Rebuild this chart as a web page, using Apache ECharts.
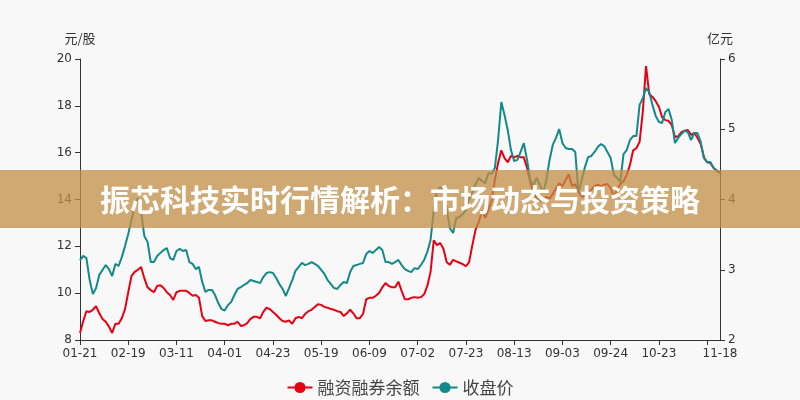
<!DOCTYPE html>
<html>
<head>
<meta charset="utf-8">
<script src="https://cdn.jsdelivr.net/npm/echarts@6/dist/echarts.min.js"></script>
<style>
html,body{margin:0;padding:0;background:#f8f8f8;}
#chart{width:800px;height:400px;}
</style>
</head>
<body>
<div id="chart"></div>
<script>
const dates = [
'01-21','01-22','01-23','01-24','01-27','02-05','02-06','02-07','02-10','02-11','02-12','02-13','02-14','02-17','02-18',
'02-19','02-20','02-21','02-24','02-25','02-26','02-27','02-28','03-03','03-04','03-05','03-06','03-07','03-08','03-10',
'03-11','03-12','03-13','03-14','03-17','03-18','03-19','03-20','03-21','03-24','03-25','03-26','03-27','03-28','03-31',
'04-01','04-02','04-03','04-07','04-08','04-09','04-10','04-11','04-14','04-15','04-16','04-17','04-18','04-21','04-22',
'04-23','04-24','04-25','04-28','04-29','04-30','05-06','05-07','05-08','05-09','05-12','05-13','05-14','05-15','05-16',
'05-19','05-20','05-21','05-22','05-23','05-26','05-27','05-28','05-29','05-30','06-02','06-03','06-04','06-05','06-06',
'06-09','06-10','06-11','06-12','06-13','06-16','06-17','06-18','06-19','06-20','06-23','06-25','06-27','06-30','07-01',
'07-02','07-03','07-04','07-07','07-08','07-09','07-10','07-11','07-14','07-15','07-16','07-17','07-18','07-21','07-22',
'07-23','07-24','07-25','07-28','07-29','07-30','07-31','08-01','08-04','08-05','08-06','08-07','08-08','08-11','08-12',
'08-13','08-14','08-15','08-18','08-19','08-20','08-21','08-22','08-25','08-26','08-27','08-28','08-29','09-01','09-02',
'09-03','09-04','09-05','09-08','09-09','09-10','09-11','09-12','09-15','09-16','09-17','09-18','09-19','09-22','09-23',
'09-24','09-25','09-26','09-29','09-30','10-09','10-10','10-13','10-14','10-15','10-16','10-17','10-20','10-21','10-22',
'10-23','10-24','10-27','10-28','10-29','10-30','10-31','11-01','11-03','11-04','11-05','11-06','11-07','11-10','11-11',
'11-12','11-13','11-14','11-17','11-18'
];

// 融资融券余额 (亿元, right axis)
const marginBalance = [
2.10,2.27,2.41,2.40,2.43,2.48,2.38,2.30,2.26,2.19,2.10,2.23,2.23,2.31,2.44,
2.68,2.91,2.97,3.00,3.04,2.88,2.75,2.71,2.68,2.77,2.78,2.74,2.68,2.64,2.57,
2.68,2.70,2.70,2.70,2.67,2.63,2.64,2.60,2.34,2.27,2.28,2.28,2.26,2.24,2.23,
2.23,2.21,2.23,2.23,2.26,2.20,2.21,2.24,2.30,2.33,2.33,2.31,2.40,2.46,2.44,
2.40,2.36,2.31,2.27,2.26,2.28,2.23,2.31,2.33,2.31,2.37,2.41,2.43,2.47,2.51,
2.50,2.47,2.46,2.44,2.43,2.41,2.40,2.34,2.38,2.43,2.38,2.31,2.31,2.37,2.58,
2.60,2.60,2.63,2.67,2.75,2.81,2.77,2.75,2.75,2.83,2.70,2.58,2.58,2.60,2.61,
2.60,2.61,2.65,2.77,2.97,3.42,3.35,3.38,3.30,3.11,3.07,3.14,3.12,3.10,3.08,
3.05,3.11,3.35,3.57,3.68,3.84,3.74,3.85,3.99,4.28,4.52,4.70,4.59,4.53,4.62,
4.60,4.62,4.60,4.60,4.45,4.25,4.09,4.02,3.99,3.98,4.04,4.01,4.08,4.16,4.23,
4.19,4.28,4.36,4.19,4.22,4.11,4.04,4.05,4.09,4.14,4.19,4.21,4.19,4.21,4.22,
4.16,4.04,4.14,4.22,4.26,4.35,4.49,4.70,4.73,4.82,5.25,5.90,5.50,5.46,5.40,
5.32,5.17,5.13,5.12,5.06,4.89,4.90,4.96,4.98,4.99,4.92,4.95,4.88,4.79,4.60,
4.53,4.52,4.45,4.41,4.38
];

// 收盘价 (元/股, left axis)
const closePrice = [
11.40,11.59,11.50,10.56,9.96,10.22,10.78,10.99,11.20,11.03,10.73,11.25,11.16,11.54,12.01,
12.53,13.12,13.68,14.06,13.47,12.44,12.19,11.33,11.33,11.59,11.72,11.84,11.93,11.50,11.42,
11.80,11.89,11.80,11.84,11.33,11.25,11.03,11.12,10.48,10.05,10.14,10.14,9.92,9.58,9.32,
9.26,9.49,9.62,9.92,10.18,10.26,10.35,10.43,10.56,10.52,10.48,10.43,10.69,10.86,10.90,
10.86,10.65,10.39,10.18,9.88,10.22,10.56,10.95,11.12,11.29,11.20,11.25,11.33,11.25,11.16,
10.99,10.82,10.56,10.39,10.22,10.18,10.35,10.48,10.43,10.90,11.16,11.20,11.25,11.29,11.67,
11.80,11.72,11.84,11.97,11.84,11.33,11.33,11.25,11.33,11.42,11.20,11.03,10.95,10.90,11.07,
11.03,11.20,11.42,11.76,12.27,13.55,14.36,14.53,14.36,13.64,12.78,12.57,13.21,13.25,13.38,
13.55,14.02,14.32,14.66,14.92,14.79,14.70,15.13,15.09,15.35,16.54,18.16,17.61,16.97,16.11,
15.64,15.69,16.03,16.41,15.69,14.83,14.62,14.92,14.62,14.28,14.83,15.69,16.33,16.63,17.01,
16.41,16.20,16.16,16.16,16.03,14.28,14.83,15.39,15.81,15.86,16.03,16.24,16.37,16.28,16.03,
15.77,15.05,14.92,14.75,15.94,16.11,16.54,16.71,16.71,18.04,18.33,18.76,18.59,18.04,17.57,
17.31,17.27,17.74,17.86,17.40,16.41,16.63,16.80,16.93,16.88,16.54,16.84,16.84,16.46,15.77,
15.60,15.60,15.35,15.22,15.13
];

const seriesNames = ['融资融券余额', '收盘价'];
const bannerTitle = '振芯科技实时行情解析：市场动态与投资策略';

const chart = echarts.init(document.getElementById('chart'), null, {renderer: 'canvas'});
const lastIdx = dates.length - 1;
const axisFont = 'DejaVu Sans, Noto Sans CJK SC, sans-serif';
const axisColor = '#333';

chart.setOption({
  backgroundColor: '#f8f8f8',
  animation: false,
  textStyle: {fontFamily: axisFont},
  grid: {left: 80, right: 80, top: 59, bottom: 60, containLabel: false},
  legend: {
    top: 374,
    left: 'center',
    itemWidth: 25,
    itemHeight: 14,
    itemGap: 12,
    textStyle: {fontSize: 17, color: '#444', fontFamily: 'Noto Sans CJK SC, sans-serif'},
    data: seriesNames
  },
  xAxis: {
    type: 'category',
    boundaryGap: false,
    data: dates,
    axisLine: {lineStyle: {color: axisColor, width: 1}},
    axisTick: {show: true, interval: 14, length: 5, lineStyle: {color: axisColor}},
    axisLabel: {
      color: axisColor, fontSize: 12, margin: 8,
      interval: function (index) { return (index % 15 === 0 && index <= 180) || index === lastIdx; }
    },
    splitLine: {show: false}
  },
  yAxis: [
    {
      type: 'value', min: 8, max: 20, interval: 2, position: 'left',
      name: '元/股', nameLocation: 'end', nameGap: 14,
      nameTextStyle: {color: axisColor, fontSize: 13, fontFamily: 'Noto Sans CJK SC, sans-serif'},
      axisLine: {show: true, lineStyle: {color: axisColor}},
      axisTick: {show: true, length: 5, lineStyle: {color: axisColor}},
      axisLabel: {color: axisColor, fontSize: 12, margin: 8},
      splitLine: {show: false}
    },
    {
      type: 'value', min: 2, max: 6, interval: 1, position: 'right',
      name: '亿元', nameLocation: 'end', nameGap: 14,
      nameTextStyle: {color: axisColor, fontSize: 13, fontFamily: 'Noto Sans CJK SC, sans-serif'},
      axisLine: {show: true, lineStyle: {color: axisColor}},
      axisTick: {show: true, length: 5, lineStyle: {color: axisColor}},
      axisLabel: {color: axisColor, fontSize: 12, margin: 8},
      splitLine: {show: false}
    }
  ],
  series: [
    {
      name: seriesNames[0], type: 'line', yAxisIndex: 1, data: marginBalance,
      symbol: 'circle', symbolSize: 6, showSymbol: false,
      lineStyle: {color: '#e60012', width: 2},
      itemStyle: {color: '#e60012'}
    },
    {
      name: seriesNames[1], type: 'line', yAxisIndex: 0, data: closePrice,
      symbol: 'circle', symbolSize: 6, showSymbol: false,
      lineStyle: {color: '#12898a', width: 2},
      itemStyle: {color: '#12898a'}
    }
  ],
  graphic: [
    {
      type: 'rect', z: 100, silent: true,
      shape: {x: 0, y: 170, width: 800, height: 58},
      style: {fill: 'rgba(193,141,69,0.75)'}
    },
    {
      type: 'text', z: 101, silent: true,
      x: 400, y: 200,
      style: {
        text: bannerTitle,
        fill: '#ffffff',
        font: 'bold 30px "Noto Sans CJK SC", sans-serif',
        align: 'center',
        verticalAlign: 'middle'
      }
    }
  ]
});
</script>
</body>
</html>
